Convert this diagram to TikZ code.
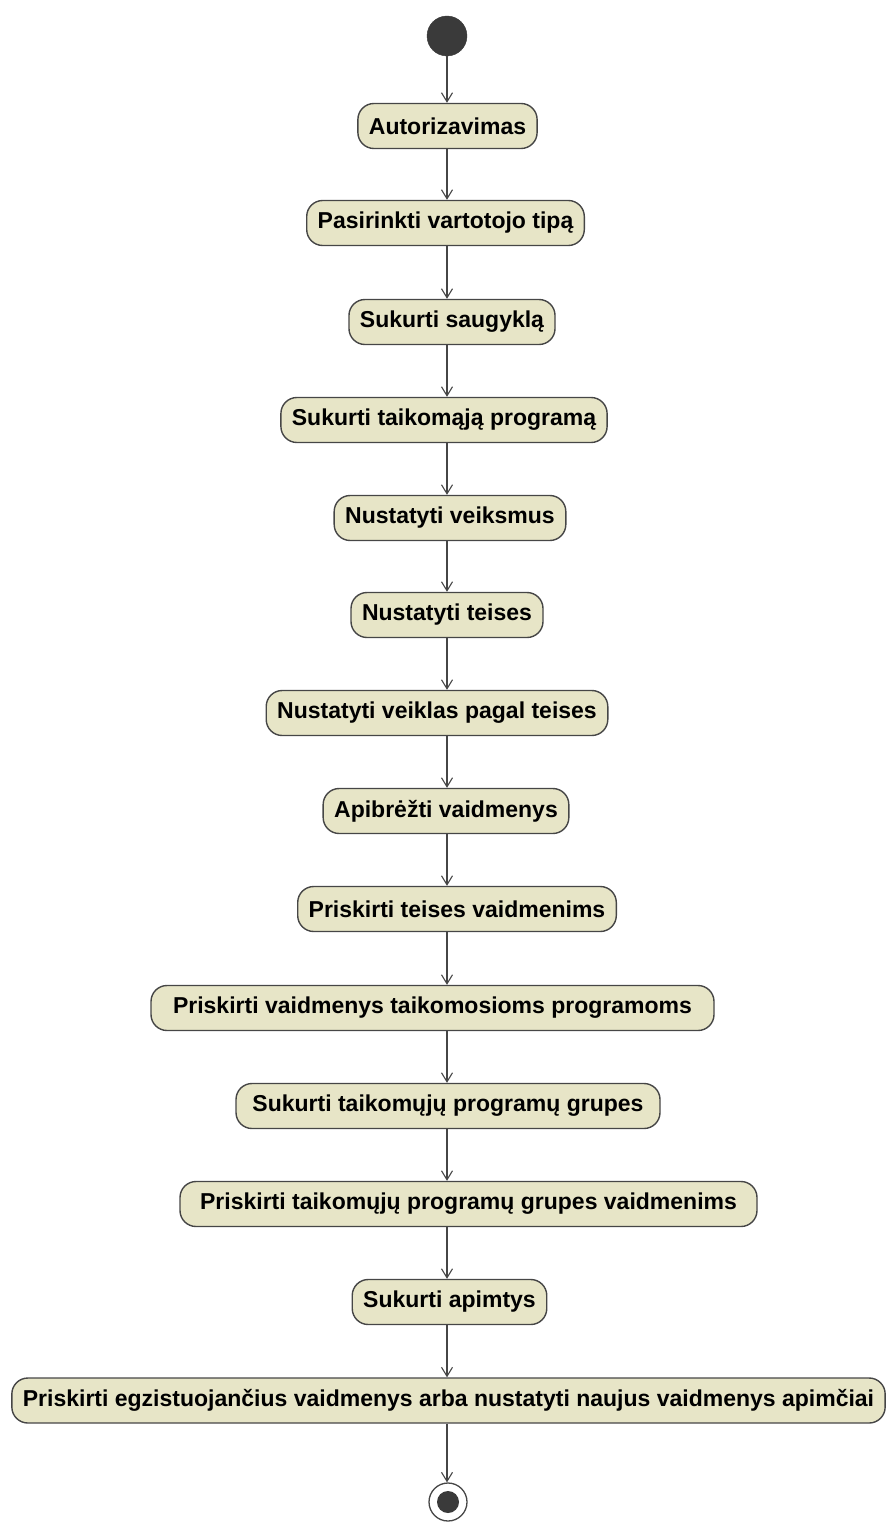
\documentclass[tikz,border=0pt]{standalone}
\usepackage{fontspec}
\setmainfont{Liberation Sans}
\usetikzlibrary{arrows.meta}
\definecolor{actfill}{RGB}{231,229,199}
\definecolor{actline}{RGB}{70,70,70}
\definecolor{dotfill}{RGB}{58,58,58}
\tikzset{
  x=1pt, y=-1pt,
  activity/.style={draw=actline, line width=1.4pt, fill=actfill, rounded corners=16pt,
    minimum height=45pt, inner xsep=11pt, inner ysep=0pt,
    font=\fontsize{23}{26}\selectfont\bfseries},
  flow/.style={draw=actline, line width=1.1pt,
    -{Straight Barb[length=9pt,width=11pt,line width=1.1pt]}},
  startdot/.style={circle, fill=dotfill, draw=dotfill, minimum size=40pt, inner sep=0pt},
  endring/.style={circle, draw=actline, line width=1.3pt, fill=white, minimum size=38pt, inner sep=0pt},
  enddot/.style={circle, fill=dotfill, minimum size=22pt, inner sep=0pt},
}
\begin{document}
\begin{tikzpicture}
\useasboundingbox (0,0) rectangle (886,1522);
\coordinate (spine) at (447,0);
\node[startdot] (s) at (447,36) {};
\node[activity] (a1)  at (447.5,126)  {Autorizavimas};
\node[activity] (a2)  at (445.5,223)  {Pasirinkti vartotojo tipą};
\node[activity] (a3)  at (452,322)    {Sukurti saugyklą};
\node[activity] (a4)  at (444,420)    {Sukurti taikomąją programą};
\node[activity] (a5)  at (450,518)    {Nustatyti veiksmus};
\node[activity] (a6)  at (447,615)    {Nustatyti teises};
\node[activity] (a7)  at (437,713)    {Nustatyti veiklas pagal teises};
\node[activity] (a8)  at (446,811)    {Apibrėžti vaidmenys};
\node[activity] (a9)  at (457,909)    {Priskirti teises vaidmenims};
\node[activity, minimum width=563pt] (a10) at (432.5,1008) {Priskirti vaidmenys taikomosioms programoms};
\node[activity, minimum width=424pt] (a11) at (448,1106)   {Sukurti taikomųjų programų grupes};
\node[activity, minimum width=577pt] (a12) at (468.5,1204) {Priskirti taikomųjų programų grupes vaidmenims};
\node[activity] (a13) at (449.5,1302) {Sukurti apimtys};
\node[activity] (a14) at (448.5,1400.5){Priskirti egzistuojančius vaidmenys arba nustatyti naujus vaidmenys apimčiai};
\node[endring] (e) at (448,1502) {};
\node[enddot] (ed) at (e.center) {};
\foreach \u/\v in {s/a1,a1/a2,a2/a3,a3/a4,a4/a5,a5/a6,a6/a7,a7/a8,a8/a9,a9/a10,a10/a11,a11/a12,a12/a13,a13/a14,a14/e}
  \draw[flow] (\u.south -| spine) -- (\v.north -| spine);
\end{tikzpicture}
\end{document}
